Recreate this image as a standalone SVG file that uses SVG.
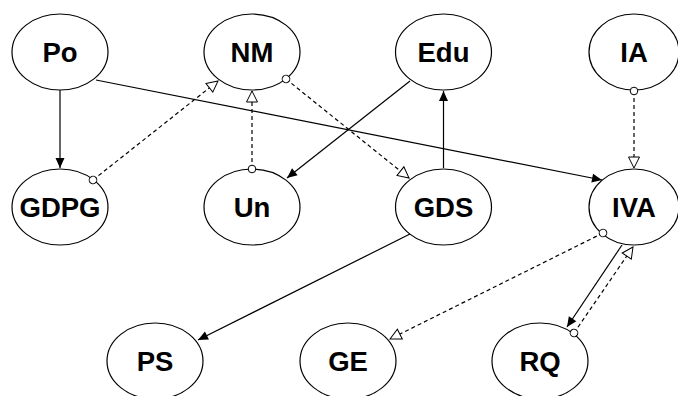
<svg xmlns="http://www.w3.org/2000/svg" width="678" height="396" viewBox="0 0 678 396">
<style>
.node ellipse{fill:#fff;stroke:#000;stroke-width:1.2}
.node text{font-family:"Liberation Sans",Arial,sans-serif;font-weight:bold;font-size:27.5px;text-anchor:middle;fill:#000}
.e{fill:none;stroke:#000;stroke-width:1.2}
.s{marker-end:url(#fa)}
.d{stroke-dasharray:4 3;marker-end:url(#oa);marker-start:url(#oc)}
</style>
<defs>
<marker id="fa" markerUnits="userSpaceOnUse" markerWidth="12" markerHeight="12" refX="10" refY="0" orient="auto" overflow="visible" viewBox="-1 -6 12 12">
<path d="M0,-4.5 L10,0 L0,4.5 z" fill="#000"/>
</marker>
<marker id="oa" markerUnits="userSpaceOnUse" markerWidth="14" markerHeight="14" refX="11" refY="0" orient="auto" overflow="visible" viewBox="-1 -7 14 14">
<path d="M0,-5.5 L11,0 L0,5.5 z" fill="#fff" stroke="#000" stroke-width="1"/>
</marker>
<marker id="oc" markerUnits="userSpaceOnUse" markerWidth="10" markerHeight="10" refX="0" refY="0" orient="auto" overflow="visible" viewBox="-5 -5 10 10">
<circle cx="0" cy="0" r="3.8" fill="#fff" stroke="#000" stroke-width="1"/>
</marker>
</defs>
<g id="Po" class="node"><ellipse cx="60" cy="52" rx="48" ry="38"/><text x="60" y="62">Po</text></g>
<g id="NM" class="node"><ellipse cx="252" cy="52" rx="48" ry="38"/><text x="252" y="62">NM</text></g>
<g id="Edu" class="node"><ellipse cx="443.5" cy="52" rx="48" ry="38"/><text x="443.5" y="62">Edu</text></g>
<g id="IA" class="node"><ellipse cx="634" cy="52" rx="45" ry="38"/><text x="634" y="62">IA</text></g>
<g id="GDPG" class="node"><ellipse cx="60" cy="207" rx="48" ry="38"/><text x="60" y="217">GDPG</text></g>
<g id="Un" class="node"><ellipse cx="252" cy="207" rx="48" ry="38"/><text x="252" y="217">Un</text></g>
<g id="GDS" class="node"><ellipse cx="443.5" cy="207" rx="48" ry="38"/><text x="443.5" y="217">GDS</text></g>
<g id="IVA" class="node"><ellipse cx="634" cy="207" rx="45" ry="38"/><text x="634" y="217">IVA</text></g>
<g id="PS" class="node"><ellipse cx="155" cy="361" rx="48" ry="38"/><text x="155" y="371">PS</text></g>
<g id="GE" class="node"><ellipse cx="348" cy="361" rx="48" ry="38"/><text x="348" y="371">GE</text></g>
<g id="RQ" class="node"><ellipse cx="540" cy="361" rx="48" ry="38"/><text x="540" y="371">RQ</text></g>
<g id="edges">
<path class="e s" d="M60,90 L60,168"/>
<path class="e s" d="M96,80 L602,180"/>
<path class="e d" d="M93,180 L218,81"/>
<path class="e d" d="M252,169 L252,91"/>
<path class="e d" d="M286,79 L409,178"/>
<path class="e s" d="M410,81 L287,178"/>
<path class="e s" d="M443.5,168 L443.5,91"/>
<path class="e d" d="M634,91 L634,168"/>
<path class="e s" d="M410,234 L198,340"/>
<path class="e d" d="M603,233 L390,339"/>
<path class="e s" d="M622,245 L567,327"/>
<path class="e d" d="M574,333 L633,247"/>
</g>
</svg>
